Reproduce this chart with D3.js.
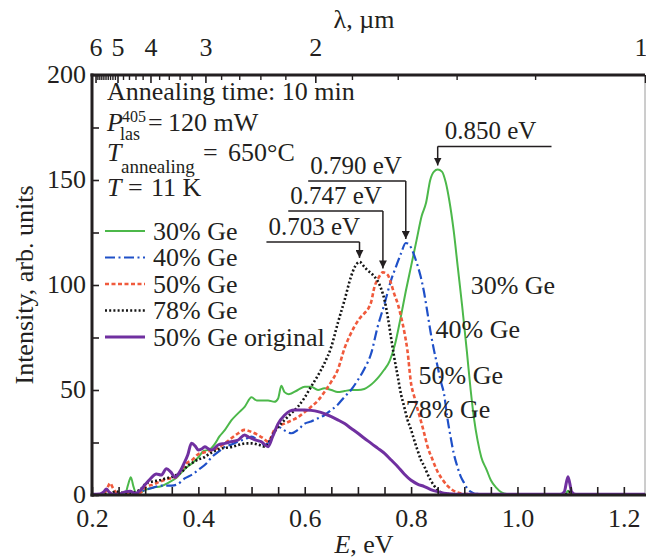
<!DOCTYPE html>
<html>
<head>
<meta charset="utf-8">
<script src="https://cdn.jsdelivr.net/npm/d3@7"></script>
<style>
  html, body { margin: 0; padding: 0; background: #fff; }
  svg { display: block; }
  text { font-family: "Liberation Serif", "Times New Roman", serif; fill: #231f20; }
</style>
</head>
<body>
<svg id="chart" width="646" height="559"></svg>
<script>
// Photoluminescence spectra, pairs of [E (eV), intensity (arb. units)]
const ge30 = [[0.20,0],[0.22,0.3],[0.25,0.2],[0.262,0.5],[0.268,5],[0.273,8.5],[0.278,4],[0.283,0.8],[0.29,1],[0.30,2.4],[0.315,3.5],[0.33,4.2],[0.345,6],[0.36,8.5],[0.375,12.5],[0.39,15.5],[0.40,18],[0.41,21],[0.42,21.5],[0.43,24],[0.44,28],[0.45,31],[0.462,35.5],[0.475,39],[0.487,42],[0.50,46.5],[0.51,45],[0.52,45],[0.531,45],[0.543,44.4],[0.55,46],[0.556,52],[0.562,49],[0.57,48],[0.587,50],[0.60,51.5],[0.612,51.5],[0.625,50],[0.637,50.8],[0.65,50],[0.662,49],[0.675,49.5],[0.687,50],[0.70,50],[0.712,50.5],[0.722,52],[0.731,54],[0.74,56.5],[0.749,59.5],[0.76,64],[0.77,72],[0.78,84],[0.79,97],[0.80,109],[0.81,121],[0.82,133],[0.828,139],[0.836,150],[0.843,154],[0.85,155],[0.858,154],[0.865,149],[0.872,140],[0.88,126],[0.888,108],[0.896,90],[0.905,68],[0.912,50],[0.918,37],[0.925,26],[0.932,18],[0.942,12],[0.95,7],[0.96,3.5],[0.97,1.2],[0.98,0.5],[1.0,0.3],[1.05,0.2],[1.09,0.4],[1.095,2],[1.1,0.4],[1.15,0.2],[1.2,0.3],[1.2398,0.2]];

const ge40 = [[0.20,0],[0.25,0],[0.28,0],[0.287,0.8],[0.30,2.4],[0.315,3.5],[0.33,4.5],[0.35,4.5],[0.36,5],[0.375,8],[0.39,10],[0.40,12],[0.415,15],[0.425,18],[0.44,21],[0.45,23],[0.462,24],[0.475,25.5],[0.487,26.5],[0.50,27.8],[0.512,26],[0.525,23.8],[0.537,27],[0.55,32.5],[0.56,31],[0.575,29.4],[0.587,31],[0.60,34],[0.612,35],[0.625,36.5],[0.637,38],[0.65,40.5],[0.662,43],[0.675,46.8],[0.687,50],[0.70,54.8],[0.712,60],[0.725,67.5],[0.737,80],[0.75,91],[0.762,102],[0.772,109],[0.781,115],[0.79,120],[0.797,119],[0.803,116],[0.81,111],[0.818,104],[0.824,97],[0.83,88],[0.837,77],[0.843,69],[0.85,61],[0.856,54],[0.862,48],[0.868,37],[0.874,28],[0.88,20],[0.887,13.5],[0.893,9],[0.90,5.6],[0.906,3],[0.912,1.6],[0.92,0.6],[0.95,0.3],[1.0,0.2],[1.1,0.3],[1.2398,0.2]];

const ge50 = [[0.20,0],[0.222,0.5],[0.23,4],[0.234,5.6],[0.24,3],[0.25,0.5],[0.27,0.3],[0.29,1],[0.302,4],[0.315,5],[0.327,6.3],[0.34,7.5],[0.359,8.7],[0.368,12],[0.377,15],[0.39,17],[0.40,19.5],[0.415,20.5],[0.425,21.4],[0.437,22.5],[0.45,24.6],[0.462,27],[0.475,29.4],[0.487,31],[0.50,30],[0.512,28.6],[0.522,27],[0.531,25.4],[0.543,31],[0.552,33],[0.562,34],[0.575,35.5],[0.587,37],[0.60,39.5],[0.612,42],[0.625,45],[0.637,49],[0.65,54],[0.662,59.5],[0.675,70],[0.685,76],[0.693,80],[0.703,84],[0.712,86.5],[0.72,89],[0.725,92],[0.731,99],[0.738,103],[0.747,106],[0.756,104.8],[0.762,101],[0.768,96],[0.775,91],[0.781,85],[0.787,78],[0.793,69],[0.80,53],[0.806,46.8],[0.812,41],[0.818,35.7],[0.825,29],[0.831,23],[0.84,17],[0.85,11],[0.86,7],[0.868,4.5],[0.877,2.5],[0.887,1.2],[0.90,0.5],[0.95,0.3],[1.0,0.3],[1.1,0.2],[1.2398,0.3]];

const ge78 = [[0.20,0],[0.23,0.5],[0.246,1.6],[0.26,1],[0.27,1],[0.29,2.4],[0.302,5.6],[0.315,6.5],[0.327,7],[0.34,8],[0.352,8.7],[0.362,10],[0.371,11.5],[0.38,14],[0.39,15.5],[0.40,17],[0.408,17.5],[0.417,19],[0.427,20.5],[0.44,22],[0.452,22.5],[0.465,23],[0.475,23.8],[0.49,24.6],[0.50,24.6],[0.515,23.8],[0.525,23],[0.535,26],[0.543,30],[0.552,33],[0.562,35.7],[0.575,39],[0.587,42],[0.60,46.5],[0.612,51.6],[0.625,57],[0.637,62.7],[0.65,70.6],[0.662,81.7],[0.675,92.9],[0.687,104],[0.695,109],[0.703,111],[0.712,108.7],[0.718,107],[0.725,105.6],[0.731,104],[0.737,102],[0.744,98],[0.75,92.9],[0.756,85],[0.762,75.4],[0.768,66],[0.775,56.3],[0.781,48],[0.787,42],[0.793,36],[0.80,31],[0.806,26],[0.812,21.4],[0.818,17],[0.825,13.5],[0.831,10],[0.837,7],[0.843,4.5],[0.85,2.4],[0.858,1],[0.87,0.4],[0.9,0.3],[1.0,0.2],[1.09,0.3],[1.097,1.5],[1.104,0.3],[1.2398,0.2]];

const ge50orig = [[0.20,0.3],[0.215,0.5],[0.222,1.5],[0.227,2.8],[0.232,1.5],[0.24,0.3],[0.25,0.3],[0.262,1.5],[0.272,1.8],[0.28,0.8],[0.29,2],[0.30,5],[0.309,7.5],[0.321,10],[0.33,9.5],[0.34,12.5],[0.348,11],[0.356,8.5],[0.365,11],[0.372,14.5],[0.38,19],[0.387,24.6],[0.395,23],[0.40,21.4],[0.407,22],[0.412,23],[0.419,22],[0.425,21.4],[0.437,23.8],[0.45,24.6],[0.462,25.4],[0.475,26.2],[0.487,28.6],[0.495,27.5],[0.50,27],[0.51,26],[0.518,25.4],[0.531,23],[0.54,28],[0.55,34],[0.562,38],[0.572,40],[0.581,40.5],[0.60,40.5],[0.612,40.3],[0.625,39.7],[0.637,38.7],[0.65,37.3],[0.662,35.8],[0.675,34],[0.687,31.8],[0.70,29.4],[0.712,27],[0.725,24.6],[0.737,22.3],[0.75,19.8],[0.762,16.8],[0.775,13.5],[0.787,10],[0.80,7],[0.812,5.2],[0.825,4],[0.837,2.6],[0.85,1.6],[0.87,0.6],[0.9,0.3],[1.0,0.3],[1.08,0.3],[1.088,1.5],[1.095,8.7],[1.102,1.5],[1.11,0.3],[1.2398,0.3]];

const seriesNames = ["30% Ge", "40% Ge", "50% Ge", "78% Ge", "50% Ge original"];
const seriesData = [ge30, ge40, ge50, ge78, ge50orig];

// peak positions quoted on the callouts (eV) and the series each one marks
const peakEnergies = [0.850, 0.790, 0.747, 0.703];
const peakSeries = [0, 1, 2, 3];
// callout leader: height (intensity units) and horizontal extent (eV)
const calloutLevel = [166, 149.5, 135.2, 120.5];
const calloutFrom = [0.850, 0.6065, 0.569, 0.528];
const calloutTo = [1.064, 0.790, 0.747, 0.703];

// end-of-curve labels, anchored in data coordinates
const curveLabelE = [0.912, 0.846, 0.814, 0.790];
const curveLabelI = [95.5, 75, 53, 36.5];

// axis ticks
const energyTicks = [0.2,0.25,0.3,0.35,0.4,0.45,0.5,0.55,0.6,0.65,0.7,0.75,0.8,0.85,0.9,0.95,1.0,1.05,1.1,1.15,1.2];
const energyLabels = [0.2,0.4,0.6,0.8,1.0,1.2];
const intensityTicks = [0,25,50,75,100,125,150,175,200];
const intensityLabels = [0,50,100,150,200];
const wavelengthMajor = [6,5,4,3,2,1];
const wavelengthMinor = [5.9,5.8,5.7,5.6,5.5,5.4,5.3,5.2,5.1,4.8,4.6,4.4,4.2,3.8,3.6,3.4,3.2,2.8,2.6,2.4,2.2,1.8,1.6,1.4,1.2];
const HC = 1.2398; // eV·µm

const styles = [
  { stroke: "#4cb84a", width: 2.0, dash: null },
  { stroke: "#1f50c8", width: 2.2, dash: "10,3.5,2,3.5" },
  { stroke: "#f05a3c", width: 2.6, dash: "4,2.5" },
  { stroke: "#151515", width: 2.6, dash: "2,2.2" },
  { stroke: "#7030a0", width: 3.0, dash: null }
];

const L = 92, R = 645, T = 75, B = 495;
const FS = 26;
const svg = d3.select("#chart");
svg.append("rect").attr("width", 646).attr("height", 559).attr("fill", "#fff");

const x = d3.scaleLinear().domain([0.2, HC]).range([L, R]);
const y = d3.scaleLinear().domain([0, 200]).range([B, T]);

svg.append("defs").append("marker")
  .attr("id", "arrow").attr("viewBox", "0 0 10 10")
  .attr("refX", 10).attr("refY", 5)
  .attr("markerUnits", "userSpaceOnUse")
  .attr("markerWidth", 8).attr("markerHeight", 8)
  .attr("orient", "auto")
  .append("path").attr("d", "M0,0L10,5L0,10Z").attr("fill", "#231f20");

svg.append("clipPath").attr("id", "plot").append("rect")
  .attr("x", L).attr("y", T).attr("width", R - L).attr("height", B - T + 2);

// right frame
svg.append("line").attr("x1", R).attr("x2", R).attr("y1", T).attr("y2", B)
  .attr("stroke", "#9a9a9a").attr("stroke-width", 1);

// curves
const line = d3.line().x(d => x(d[0])).y(d => y(d[1])).curve(d3.curveMonotoneX);
const curves = svg.append("g").attr("clip-path", "url(#plot)");
seriesData.forEach((s, i) => {
  curves.append("path").datum(s)
    .attr("d", line)
    .attr("fill", "none")
    .attr("stroke", styles[i].stroke)
    .attr("stroke-width", styles[i].width)
    .attr("stroke-dasharray", styles[i].dash)
    .attr("stroke-linejoin", "round");
});

// bottom axis
const fmt1 = d3.format(".1f");
const xAxis = svg.append("g").attr("transform", `translate(0,${B})`)
  .call(d3.axisBottom(x).tickValues(energyTicks)
    .tickSize(-8).tickFormat(d => energyLabels.some(v => Math.abs(v - d) < 1e-9) ? fmt1(d) : ""));
xAxis.select(".domain").remove();
xAxis.selectAll(".tick line").attr("stroke", "#231f20").attr("stroke-width", 1.6);
xAxis.selectAll(".tick text").attr("y", 32).attr("dy", null)
  .attr("font-size", FS).attr("font-family", "Liberation Serif").attr("fill", "#231f20");

// left axis
const yAxis = svg.append("g").attr("transform", `translate(${L},0)`)
  .call(d3.axisLeft(y).tickValues(intensityTicks)
    .tickSize(-7).tickFormat(d => intensityLabels.includes(d) ? d : ""));
yAxis.select(".domain").remove();
yAxis.selectAll(".tick line").attr("stroke", "#231f20").attr("stroke-width", 1.6);
yAxis.selectAll(".tick text").attr("x", -6).attr("dy", "0.3em")
  .attr("font-size", FS).attr("font-family", "Liberation Serif").attr("fill", "#231f20");

// top axis in wavelength
const topMinor = svg.append("g").attr("transform", `translate(0,${T})`)
  .call(d3.axisTop(x).tickValues(wavelengthMinor.map(l => HC / l)).tickSize(-5).tickFormat(""));
topMinor.select(".domain").remove();
topMinor.selectAll(".tick line").attr("stroke", "#231f20").attr("stroke-width", 1.4);
const topMajor = svg.append("g").attr("transform", `translate(0,${T})`)
  .call(d3.axisTop(x).tickValues(wavelengthMajor.map(l => HC / l)).tickSize(-8)
    .tickFormat(d => d3.format("d")(Math.round(HC / d))));
topMajor.select(".domain").remove();
topMajor.selectAll(".tick line").attr("stroke", "#231f20").attr("stroke-width", 1.6);
topMajor.selectAll(".tick text").attr("y", -19).attr("dy", null)
  .attr("font-size", FS).attr("font-family", "Liberation Serif").attr("fill", "#231f20");
topMajor.selectAll(".tick text").filter(d => Math.abs(d - HC) < 1e-6)
  .attr("text-anchor", "end").attr("dx", 2);

// frame lines
svg.append("line").attr("x1", L - 1.5).attr("x2", R).attr("y1", T).attr("y2", T)
  .attr("stroke", "#231f20").attr("stroke-width", 3);
svg.append("line").attr("x1", L - 1.5).attr("x2", R + 1).attr("y1", B).attr("y2", B)
  .attr("stroke", "#231f20").attr("stroke-width", 3);
svg.append("line").attr("x1", L).attr("x2", L).attr("y1", T - 1.5).attr("y2", B + 1.5)
  .attr("stroke", "#231f20").attr("stroke-width", 3);

// axis titles
const xt = svg.append("text").attr("x", 364).attr("y", 553).attr("text-anchor", "middle").attr("font-size", FS);
xt.append("tspan").attr("font-style", "italic").text("E");
xt.append("tspan").text(", eV");
svg.append("text").attr("x", 364).attr("y", 28).attr("text-anchor", "middle").attr("font-size", FS).text("λ, µm");
svg.append("text").attr("transform", `translate(33,${(T + B) / 2}) rotate(-90)`)
  .attr("text-anchor", "middle").attr("font-size", FS).text("Intensity, arb. units");

// measurement conditions
const info = svg.append("g").attr("font-size", FS);
info.append("text").attr("x", 107).attr("y", 100).text("Annealing time: 10 min");
info.append("text").attr("x", 107).attr("y", 131).attr("font-style", "italic").text("P");
info.append("text").attr("x", 122).attr("y", 122).attr("font-size", 16).text("405");
info.append("text").attr("x", 120).attr("y", 140).attr("font-size", 18).text("las");
info.append("text").attr("x", 148).attr("y", 131).text("=");
info.append("text").attr("x", 168).attr("y", 131).text("120 mW");
info.append("text").attr("x", 107).attr("y", 161).attr("font-style", "italic").text("T");
info.append("text").attr("x", 121).attr("y", 173).attr("font-size", 19).text("annealing");
info.append("text").attr("x", 203).attr("y", 161).text("=");
info.append("text").attr("x", 228).attr("y", 161).text("650°C");
info.append("text").attr("x", 107).attr("y", 196).attr("font-style", "italic").text("T");
info.append("text").attr("x", 128).attr("y", 196).text("=");
info.append("text").attr("x", 151).attr("y", 196).text("11 K");

// legend
const legend = svg.append("g");
seriesNames.forEach((name, i) => {
  const ly = 231 + i * 26.5;
  legend.append("line").attr("x1", 105).attr("x2", 145).attr("y1", ly).attr("y2", ly)
    .attr("stroke", styles[i].stroke).attr("stroke-width", styles[i].width)
    .attr("stroke-dasharray", styles[i].dash);
  legend.append("text").attr("x", 153).attr("y", ly + 8.5).attr("font-size", FS).text(name);
});

// peak callouts
peakEnergies.forEach((e, i) => {
  const s = seriesData[peakSeries[i]];
  const peak = d3.max(s, d => d[1]);
  const ly = y(calloutLevel[i]);
  svg.append("line").attr("x1", x(calloutFrom[i])).attr("x2", x(calloutTo[i]))
    .attr("y1", ly).attr("y2", ly).attr("stroke", "#231f20").attr("stroke-width", 1.5);
  svg.append("line").attr("x1", x(e)).attr("x2", x(e))
    .attr("y1", ly).attr("y2", y(peak) - 4)
    .attr("stroke", "#231f20").attr("stroke-width", 1.5).attr("marker-end", "url(#arrow)");
  const tx = i === 0 ? x(e) + 7 : x(calloutFrom[i]) + 2;
  svg.append("text").attr("x", tx).attr("y", ly - 7).attr("font-size", 25)
    .text(d3.format(".3f")(e) + " eV");
});

// labels next to the falling edges
seriesNames.slice(0, 4).forEach((name, i) => {
  svg.append("text").attr("x", x(curveLabelE[i])).attr("y", y(curveLabelI[i]))
    .attr("font-size", FS).text(name);
});
</script>
</body>
</html>
